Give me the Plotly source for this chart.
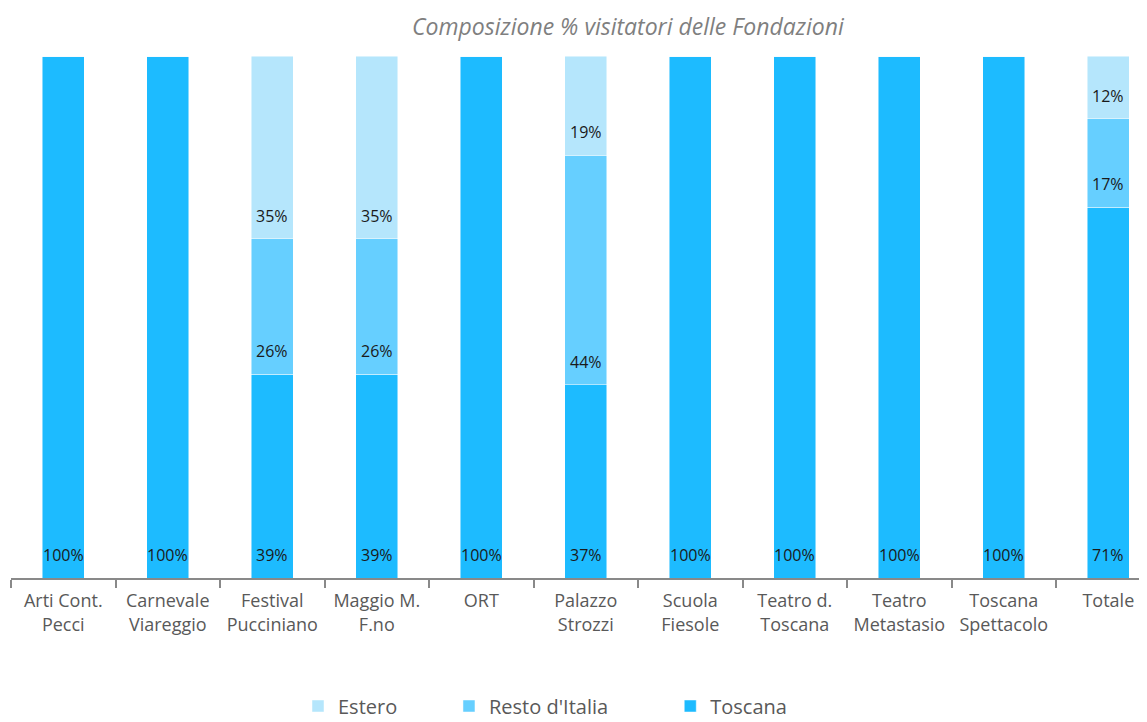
import plotly.graph_objects as go

categories = ["Arti Cont.<br>Pecci", "Carnevale<br>Viareggio", "Festival<br>Pucciniano",
              "Maggio M.<br>F.no", "ORT", "Palazzo<br>Strozzi", "Scuola<br>Fiesole",
              "Teatro d.<br>Toscana", "Teatro<br>Metastasio", "Toscana<br>Spettacolo", "Totale"]
toscana = [100, 100, 39, 39, 100, 37, 100, 100, 100, 100, 71]
resto_italia = [0, 0, 26, 26, 0, 44, 0, 0, 0, 0, 17]
estero = [0, 0, 35, 35, 0, 19, 0, 0, 0, 0, 12]

series = [("Toscana", "Toscana", toscana, "#1DBBFF", 3),
          ("Resto d'Italia", "Resto d'Italia" + "\u00a0" * 11, resto_italia, "#66CFFF", 2),
          ("Estero", "Estero" + "\u00a0" * 9, estero, "#B5E6FC", 1)]

FONT = "Open Sans"
OFF = 8  # page body margin
fig = go.Figure()
for key, label, vals, col, rank in series:
    fig.add_trace(go.Bar(x=categories, y=vals, name=label, legendrank=rank,
                         marker=dict(color=col, line=dict(color="rgba(255,255,255,0.6)", width=0.8)),
                         hoverinfo="skip"))

# value labels at the base of each segment
annotations = []
base = [0] * len(categories)
for key, label, vals, col, rank in series:
    for i, v in enumerate(vals):
        if v > 0:
            annotations.append(dict(x=categories[i], y=base[i], xref="x", yref="y",
                                    text=f"{v}%", showarrow=False, yanchor="middle",
                                    yshift=23, font=dict(family=FONT, size=16, color="#1a1a1a")))
        base[i] += v

L, T, PW, PH = 11 - OFF, 56 - OFF, 1136, 522
annotations.append(dict(text="<i>Composizione % visitatori delle Fondazioni</i>",
                        xref="paper", yref="paper", x=(628 - OFF - L) / PW, y=1 + (56 - 26) / PH,
                        xanchor="center", yanchor="middle", showarrow=False,
                        font=dict(family=FONT, size=23, color="#7f7f7f")))

W, H = 1147 - OFF, 722 - OFF
fig.update_layout(
    barmode="stack", bargap=0.6,
    width=W, height=H,
    margin=dict(l=L, r=W - L - PW, t=T, b=H - T - PH, autoexpand=False),
    plot_bgcolor="white", paper_bgcolor="white",
    annotations=annotations,
    showlegend=True,
    legend=dict(orientation="h", traceorder="normal",
                xanchor="left", yanchor="middle",
                x=(324 - OFF - 26 - L) / PW, y=-(706 - 578) / PH,
                font=dict(family=FONT, size=20, color="#595959"), itemwidth=30),
    xaxis=dict(range=[-0.5, 10.37], showline=True, linecolor="#898989", linewidth=1.5,
               ticks="outside", tickson="boundaries", ticklen=8, tickcolor="#898989", tickwidth=1.5,
               ticklabelstandoff=6, automargin=False,
               tickfont=dict(family=FONT, size=18, color="#595959"), showgrid=False, fixedrange=True),
    yaxis=dict(range=[0, 100], visible=False, showgrid=False, automargin=False),
)
fig.write_html("out.html")
